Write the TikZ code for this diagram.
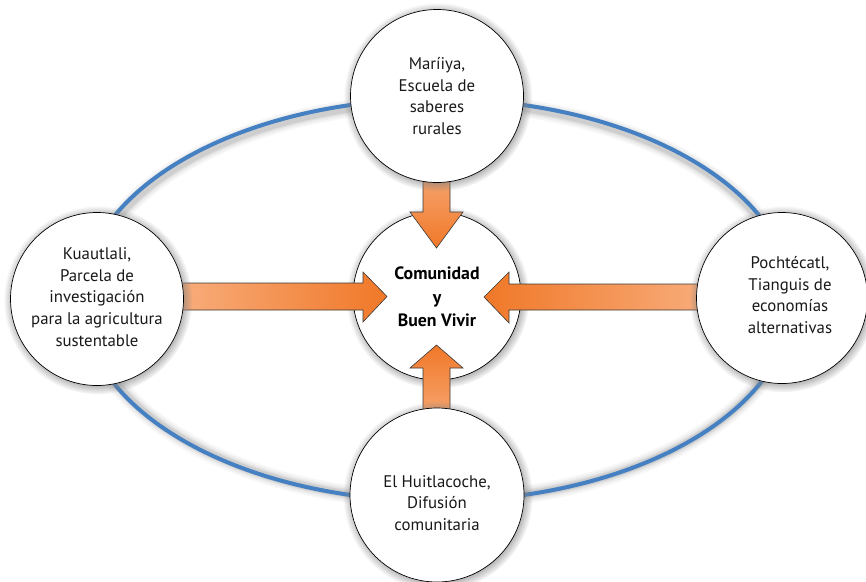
\documentclass[tikz,border=0pt]{standalone}
\usepackage{fontspec}
\setmainfont{PT Sans}
\usetikzlibrary{shadows}
\definecolor{ringblue}{HTML}{4480C2}
\definecolor{arrowlight}{HTML}{F9B487}
\definecolor{arrowdark}{HTML}{F07828}
\definecolor{arrowedge}{HTML}{3A3A3A}
\tikzset{
  bubble/.style={circle, draw=black, line width=0.7pt, fill=white,
    minimum size=#1, inner sep=0pt,
    circular drop shadow={shadow scale=1.09, shadow xshift=0.8pt, shadow yshift=-1pt, opacity=0.85}},
  caption/.style={align=center, inner sep=0pt, text=black!90,
    font=\fontsize{16.8}{21.7}\selectfont},
  hub/.style={align=center, inner sep=0pt, text=black,
    font=\bfseries\fontsize{17.8}{23.5}\selectfont},
  fatarrow/.style={draw=arrowedge, line width=0.6pt, line join=miter},
}
\begin{document}
\begin{tikzpicture}[x=1pt, y=-1pt]
\useasboundingbox (0,0) rectangle (866,581);

% soft shadow under the ring
\foreach \w/\o in {18/0.03, 14/0.04, 10/0.06, 7/0.08}
  \draw[line width=\w pt, black, opacity=\o] (438,301.5) ellipse [x radius=353, y radius=199];
% the ring
\draw[ringblue, line width=4pt] (437,300) ellipse [x radius=355, y radius=201];

% central circle
\node[bubble=168pt] (hub) at (437,296) {};
\node[hub] (hubtxt) at (437,297) {Comunidad\\y\\Buen Vivir};

% arrows pointing to the centre
\path[fatarrow, left color=arrowlight, right color=arrowdark]
  (150,283) -- (363,283) -- (363,272) -- (387,296.5) -- (363,322) -- (363,310) -- (150,310) -- cycle;
\path[fatarrow, left color=arrowdark, right color=arrowlight]
  (740,284) -- (509,284) -- (509,272) -- (484,297) -- (509,323) -- (509,310) -- (740,310) -- cycle;
\path[fatarrow, top color=arrowlight, bottom color=arrowdark]
  (423,150) -- (423,212) -- (410,212) -- (436.5,248) -- (463,212) -- (450,212) -- (450,150) -- cycle;
\path[fatarrow, top color=arrowdark, bottom color=arrowlight]
  (423,440) -- (423,368) -- (410,368) -- (436.5,345) -- (463,368) -- (450,368) -- (450,440) -- cycle;

% outer circles
\node[bubble=173pt] (top) at (437,96) {};
\node[bubble=173pt] (left) at (97,299) {};
\node[bubble=171pt] (right) at (782,298) {};
\node[bubble=174pt] (bottom) at (437,495) {};

\node[caption] (toptxt) at (437,96) {Maríiya,\\Escuela de\\saberes\\rurales};
\node[caption] (lefttxt) at (97,297) {Kuautlali,\\Parcela de\\investigación\\para la agricultura\\sustentable};
\node[caption] (righttxt) at (790,295) {Pochtécatl,\\Tianguis de\\economías\\alternativas};
\node[caption] (bottomtxt) at (437,503) {El Huitlacoche,\\Difusión\\comunitaria};
\end{tikzpicture}
\end{document}
